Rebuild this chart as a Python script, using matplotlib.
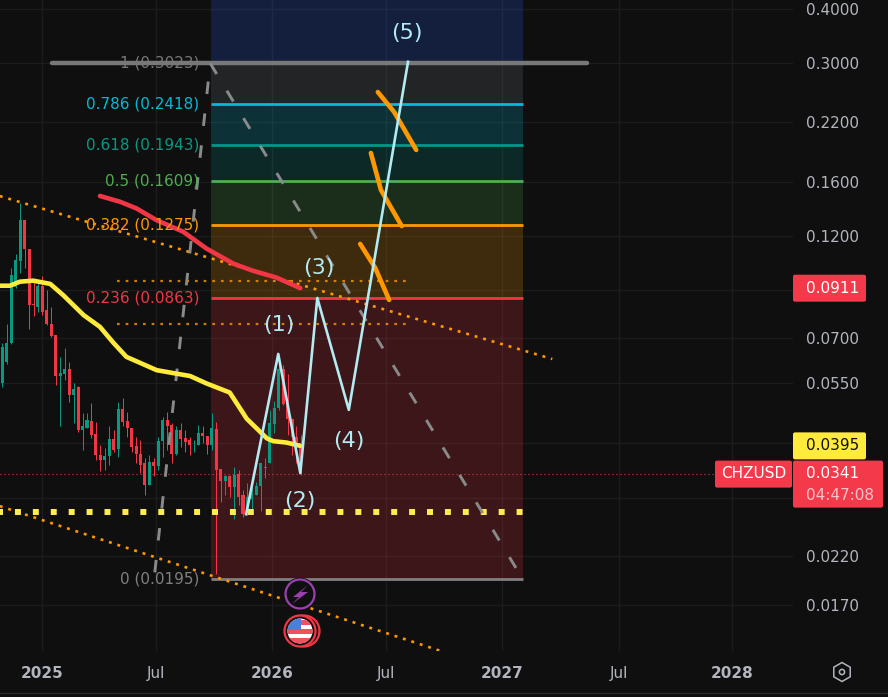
import numpy as np
import pandas as pd
import matplotlib
matplotlib.use('Agg')
import matplotlib.pyplot as plt
import matplotlib.dates as mdates
from matplotlib.patches import Circle, FancyBboxPatch, Polygon, Rectangle, RegularPolygon
from matplotlib.ticker import NullLocator

plt.rcParams['font.family'] = ['DejaVu Sans']

# weekly candles
first_week, last_week = '2024-10-30', '2026-02-16'
opens = [.0550, .0615, .0683, .0916, .1053, .1306, .1124, .0838, .0824, .0923, .0812, .0755, .0712, .0572, .0579, .0595, .0517,
         .0539, .0430, .0434, .0450, .0420, .0376, .0367, .0374, .0409, .0389, .0480, .0451, .0434, .0394, .0379, .0360, .0321,
         .0363, .0355, .0405, .0453, .0441, .0378, .0430, .0411, .0407, .0396, .0396, .0422, .0417, .0396, .0433, .0349, .0328,
         .0336, .0317, .0341, .0304, .0276, .0298, .0304, .0320, .0351, .0360, .0444, .0482, .0595, .0495, .0456, .0414, .0400]
highs = [.0683, .0755, .1013, .1091, .1428, .1306, .1124, .0951, .0943, .0973, .0901, .0826, .0712, .0633, .0665, .0615, .0550,
         .0542, .0469, .0469, .0495, .0449, .0396, .0390, .0438, .0430, .0499, .0508, .0473, .0434, .0414, .0407, .0370, .0376,
         .0370, .0414, .0460, .0473, .0445, .0438, .0447, .0430, .0414, .0407, .0442, .0438, .0417, .0469, .0449, .0349, .0339,
         .0339, .0353, .0348, .0313, .0324, .0324, .0327, .0360, .0370, .0477, .0501, .0639, .0605, .0577, .0456, .0438, .0418]
lows = [.0540, .0610, .0677, .0911, .0985, .1013, .0732, .0786, .0805, .0790, .0748, .0702, .0545, .0438, .0560, .0499, .0445,
        .0426, .0386, .0434, .0411, .0366, .0345, .0348, .0357, .0383, .0373, .0438, .0414, .0383, .0360, .0342, .0305, .0321,
        .0336, .0348, .0373, .0386, .0360, .0376, .0393, .0383, .0376, .0383, .0396, .0400, .0378, .0387, .0200, .0293, .0304,
        .0301, .0268, .0288, .0271, .0274, .0283, .0304, .0279, .0333, .0360, .0422, .0478, .0491, .0418, .0376, .0360, .0339]
closes = [.0668, .0683, .0976, .1060, .1306, .1122, .0834, .0833, .0923, .0805, .0755, .0708, .0572, .0580, .0595, .0517, .0535,
          .0430, .0439, .0452, .0418, .0376, .0367, .0374, .0409, .0387, .0480, .0449, .0434, .0393, .0378, .0357, .0321, .0363,
          .0355, .0405, .0453, .0440, .0378, .0430, .0410, .0403, .0396, .0397, .0422, .0417, .0396, .0434, .0348, .0328, .0336,
          .0318, .0339, .0302, .0276, .0301, .0307, .0320, .0360, .0353, .0445, .0484, .0595, .0493, .0455, .0414, .0393, .0341]

# moving averages
yellow_dates = ['2024-10-26', '2024-11-11', '2024-11-27', '2024-12-18', '2025-01-14', '2025-02-04', '2025-03-08', '2025-04-03',
                '2025-04-24', '2025-05-15', '2025-06-06', '2025-07-02', '2025-07-28', '2025-08-24', '2025-09-19', '2025-10-26',
                '2025-11-22', '2025-12-24', '2026-01-03', '2026-01-24', '2026-02-15']
yellow_prices = [.0923, .0923, .0943, .0948, .0932, .0877, .0790, .0742, .0683, .0633, .0613, .0590, .0581, .0572, .0550, .0524,
                 .0456, .0411, .0405, .0402, .0395]
red_dates = ['2025-04-03', '2025-05-05', '2025-05-31', '2025-07-02', '2025-08-13', '2025-09-19', '2025-11-01', '2025-12-02',
             '2026-01-08', '2026-02-15']
red_prices = [.1485, .1440, .1390, .1306, .1229, .1124, .1037, .0999, .0964, .0911]

# elliott wave drawing
wave_dates = ['2025-11-21', '2026-01-11', '2026-02-15', '2026-03-14', '2026-05-03', '2026-08-05']
wave_prices = [.0275, .0643, .0342, .0865, .0478, .3023]
wave_names = ['(1)', '(2)', '(3)', '(4)', '(5)']
wave_label_dates = ['2026-01-12', '2026-02-15', '2026-03-17', '2026-05-03', '2026-08-03']
wave_label_prices = [.0750, .0295, .1015, .0405, .352]

# fib retracement
fib_start, fib_end = '2025-09-26', '2027-02-03'
fib_ratios = ['1', '0.786', '0.618', '0.5', '0.382', '0.236', '0']
fib_prices = [.3023, .2418, .1943, .1609, .1275, .0863, .0195]
fib_colors = ['#787b86', '#00bcd4', '#009688', '#4caf50', '#ff9800', '#f23645', '#808080']
fib_line_colors = ['#a8a8a8', '#00bcd4', '#009688', '#4caf50', '#ff9800', '#f23645', '#808080']
fib_label_colors = ['#787878', '#00bcd4', '#089981', '#4caf50', '#ff9800', '#f23645', '#808080']

# other drawings
upper_trend_dates = ['2024-10-26', '2027-03-22']
upper_trend_prices = [.1484, .0626]
lower_trend_dates = ['2024-10-26', '2026-09-26']
lower_trend_prices = [.0287, .01332]
support_price = .02783
support_dates = ['2024-10-26', '2027-02-10']
band_prices = [.0945, .0752]
band_dates = ['2025-04-30', '2026-08-05']
top_line_price = .300
top_line_dates = ['2025-01-17', '2027-05-16']
fan_up_dates = ['2025-06-29', '2025-08-19', '2025-09-25']
fan_up_prices = [.0202, .0951, .300]
fan_down_dates = ['2025-09-25', '2027-02-03']
fan_down_prices = [.300, .0195]
stroke_dates = [['2026-06-18', '2026-07-14', '2026-08-18'],
                ['2026-06-07', '2026-06-23', '2026-07-26'],
                ['2026-05-21', '2026-06-14', '2026-07-06']]
stroke_prices = [[.2576, .2317, .1895], [.1865, .1533, .1266], [.1152, .1014, .0856]]

# axes
price_ticks = [.4, .3, .22, .16, .12, .09, .07, .055, .04, .03, .022, .017]
price_labels = ['0.4000', '0.3000', '0.2200', '0.1600', '0.1200', '', '0.0700', '0.0550', '', '', '0.0220', '0.0170']
time_ticks = ['2025-01-01', '2025-07-01', '2026-01-01', '2026-07-01', '2027-01-01', '2027-07-06', '2028-01-01']
time_labels = ['2025', 'Jul', '2026', 'Jul', '2027', 'Jul', '2028']
last_price = .0341
yellow_tag = .0395
red_tag = .0911

BG = '#0f0f0f'
GRID = '#1c1c1c'
TEXT = '#b2b5be'
UP = '#089981'
DOWN = '#f23645'
FS = 11


def num(dates):
    return mdates.date2num(pd.to_datetime(dates))


fig = plt.figure(figsize=(8.88, 6.97), dpi=100, facecolor=BG)
ax = fig.add_axes([0, (697 - 651) / 697, 793 / 888, 651 / 697], facecolor=BG)
ax.set_yscale('log')
ax.set_ylim(.01332, .4195)
x0 = num('2025-01-01')
ax.set_xlim(x0 - 66.67, x0 + 1192.06)
for s in ax.spines.values():
    s.set_visible(False)

ax.set_yticks(price_ticks)
ax.set_yticklabels(price_labels)
ax.yaxis.set_minor_locator(NullLocator())
ax.yaxis.tick_right()
ax.set_xticks(num(time_ticks))
ax.set_xticklabels(time_labels)
ax.tick_params(axis='y', length=0, pad=9, labelcolor=TEXT, labelsize=FS)
ax.tick_params(axis='x', length=0, pad=11, labelcolor=TEXT, labelsize=FS)
for lab in ax.get_xticklabels():
    if lab.get_text() != 'Jul':
        lab.set_fontweight('bold')
ax.grid(True, color=GRID, lw=1)
ax.set_axisbelow(True)

# fib zones, top band first
fx = num([fib_start, fib_end])
ax.fill_between(fx, .300, .4195, color='#2962ff', alpha=.2, lw=0, zorder=1)
zone_tops = [.300] + fib_prices[1:-1]
for top, bottom, col in zip(zone_tops, fib_prices[1:], fib_colors[:-1]):
    ax.fill_between(fx, bottom, top, color=col, alpha=.2, lw=0, zorder=1)
draw_prices = [.300] + fib_prices[1:]
for p, col, name, real, lc in zip(draw_prices, fib_line_colors, fib_ratios, fib_prices, fib_label_colors):
    ax.plot(fx, [p, p], color=col, lw=2, zorder=2, solid_capstyle='butt')
    ax.annotate(f'{name} ({real:.4f})', (fx[0], p), xytext=(-8.5, 0), textcoords='offset points',
                ha='right', va='center', color=lc, fontsize=FS, zorder=6)

ax.plot(num(top_line_dates), [top_line_price] * 2, color='#787878', lw=3.2, zorder=2, solid_capstyle='round')

# candles
weeks = num(pd.date_range(first_week, last_week, periods=len(opens)))
o, h, l, c = map(np.array, (opens, highs, lows, closes))
colors = [UP if b >= a else DOWN for a, b in zip(o, c)]
wicks = ax.vlines(weeks, l, h, colors=colors, lw=.72, zorder=3)
wicks.set_snap(True)
ax.bar(weeks, np.abs(c - o), bottom=np.minimum(o, c), width=4.8, color=colors, lw=0, zorder=3)

# price line
ax.axhline(last_price, color=DOWN, lw=.8, ls=(0, (1, 2.6)), zorder=2, xmax=715 / 793)

# trend lines
dot = dict(color='#ff9800', dash_capstyle='butt', zorder=4)
ax.plot(num(upper_trend_dates), upper_trend_prices, lw=1.9, ls=(0, (1.1, 2.25)), **dot)
ax.plot(num(lower_trend_dates), lower_trend_prices, lw=1.9, ls=(0, (1.1, 2.25)), **dot)
for p in band_prices:
    ax.plot(num(band_dates), [p, p], lw=1.6, ls=(0, (1.2, 2.7)), alpha=.8, **dot)
ax.plot(num(support_dates), [support_price] * 2, color='#fdec4f', lw=4.3, ls=(.5, (1, 2)), dash_capstyle='butt', zorder=4)

# dashed fan
dash = dict(color='#8a8a8a', lw=2.1, ls=(0, (4.3, 6.7)), dash_capstyle='butt', zorder=4)
ax.plot(num(fan_up_dates), fan_up_prices, **dash)
ax.plot(num(fan_down_dates), fan_down_prices, **dash)

# moving averages over the candles
ax.plot(num(yellow_dates), yellow_prices, color='#ffeb3b', lw=3.3, zorder=5, solid_capstyle='round', solid_joinstyle='round')
ax.plot(num(red_dates), red_prices, color='#f23645', lw=3.3, zorder=5, solid_capstyle='round', solid_joinstyle='round')

# hand drawn strokes
for d, p in zip(stroke_dates, stroke_prices):
    ax.plot(num(d), p, color='#ff9800', lw=3.3, zorder=5, solid_capstyle='round', solid_joinstyle='round')

ax.plot(num(wave_dates), wave_prices, color='#b2ebf2', lw=1.9, zorder=5)
for name, d, p in zip(wave_names, wave_label_dates, wave_label_prices):
    ax.text(num(d), p, name, color='#b2ebf2', fontsize=16, ha='center', va='center', zorder=7)

# overlay in pixels for tags and icons
ov = fig.add_axes([0, 0, 1, 1], facecolor='none', zorder=10)
ov.set_xlim(0, 888)
ov.set_ylim(697, 0)
ov.axis('off')


def price_y(p):
    return 697 - ax.transData.transform((x0, p))[1]


def tag(x1, x2, y1, y2, col):
    ov.add_patch(FancyBboxPatch((x1 + 2, y1 + 2), x2 - x1 - 4, y2 - y1 - 4, boxstyle='round,pad=2,rounding_size=2',
                                fc=col, ec='none'))


y = price_y(red_tag)
tag(793, 866, y - 13.5, y + 13.5, '#f43a4a')
ov.text(806, y, f'{red_tag:.4f}', color='white', fontsize=FS, va='center')
y = price_y(yellow_tag)
tag(793, 866, y - 13.5, y + 13.5, '#ffeb3b')
ov.text(806, y, f'{yellow_tag:.4f}', color='#0f0f0f', fontsize=FS, va='center')
y = price_y(last_price)
tag(715, 792, y - 13, y + 14, '#f43a4a')
ov.text(753.5, y, 'CHZUSD', color='white', fontsize=FS, ha='center', va='center')
tag(793, 883, y - 13, y + 34, '#f43a4a')
ov.text(806, y, f'{last_price:.4f}', color='white', fontsize=FS, va='center')
ov.text(806, y + 22, '04:47:08', color='#fbc4ca', fontsize=FS, va='center')

# event icons
ov.add_patch(Circle((300, 594), 16.5, fc=BG, ec='none'))
ov.add_patch(Circle((300, 594), 14.5, fc=BG, ec='#9c3fb0', lw=1.6))
ov.add_patch(Polygon([(308, 585), (293, 597), (299, 597), (292, 604), (308, 592), (301, 592)], fc='#9c3fb0', ec='none'))

ov.add_patch(Circle((304, 631), 15.5, fc=BG, ec='#f23645', lw=1.6))
ov.add_patch(Circle((300, 631), 15.5, fc=BG, ec='#f23645', lw=1.6))
flag = Circle((300, 631), 12.5, fc='white', ec='none')
ov.add_patch(flag)
for sy in (620, 629, 638):
    r = Rectangle((286, sy), 28, 4.5, fc='#f0525c', ec='none')
    ov.add_patch(r)
    r.set_clip_path(flag)
canton = Rectangle((286, 618), 15, 12, fc='#4a7fe0', ec='none')
ov.add_patch(canton)
canton.set_clip_path(flag)

# settings hexagon
ov.add_patch(RegularPolygon((842, 672), 6, radius=9.5, fc='none', ec=TEXT, lw=1.1))
ov.add_patch(Circle((842, 672), 2.6, fc='none', ec=TEXT, lw=1.1))

ov.plot([0, 888], [693, 693], color='#2a2a2a', lw=1)

fig.savefig('out.png', dpi=100, facecolor=BG)
